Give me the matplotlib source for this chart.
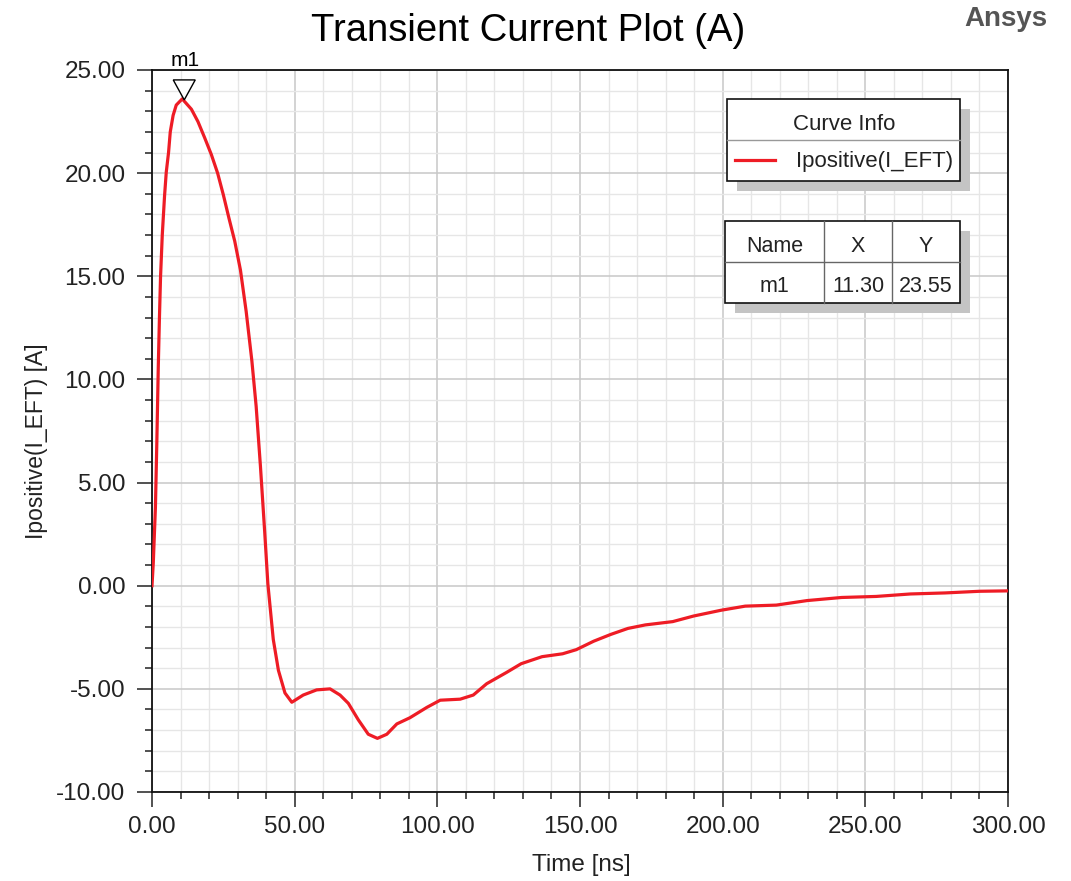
import matplotlib
matplotlib.use("Agg")
import matplotlib.pyplot as plt
from matplotlib.patches import Rectangle, Polygon
from matplotlib.lines import Line2D
from matplotlib.ticker import MultipleLocator, FormatStrFormatter

# ── data ──────────────────────────────────────────────────────────────────────
time_ns = [0, 0.45, 1.2, 1.7, 2.2, 2.6, 3.0, 3.6, 4.4, 5.0, 5.8, 6.4, 7.4, 8.5,
           10.6, 13.8, 16.1, 18.5, 20.8, 23.0, 25.0, 27.0, 29.0, 31.0, 33.0, 35.0,
           36.5, 38.0, 39.5, 40.6, 42.5, 44.3, 46.6, 49.0, 53.0, 57.7, 62.4, 65.9,
           68.8, 72.3, 75.8, 79.0, 82.3, 85.8, 90.4, 96.3, 101.0, 108.0, 112.6,
           117.3, 124.3, 129.4, 136.7, 143.9, 148.7, 154.8, 160.8, 166.8, 172.9,
           182.5, 189.8, 199.4, 207.9, 218.8, 229.6, 241.7, 253.8, 265.8, 277.9,
           290.0, 300.0]
current_a = [0, 1.1, 3.8, 7.0, 10.6, 12.95, 15.0, 17.0, 18.9, 20.05, 21.0, 22.0, 22.8,
             23.3, 23.6, 23.1, 22.5, 21.7, 20.9, 20.0, 18.95, 17.8, 16.7, 15.3, 13.3,
             10.9, 8.7, 5.8, 2.6, 0.1, -2.6, -4.1, -5.2, -5.65, -5.3, -5.05, -5.0,
             -5.3, -5.7, -6.5, -7.2, -7.4, -7.2, -6.7, -6.4, -5.9, -5.55, -5.5, -5.3,
             -4.75, -4.2, -3.78, -3.44, -3.3, -3.1, -2.69, -2.36, -2.07, -1.9, -1.74,
             -1.47, -1.19, -0.99, -0.94, -0.72, -0.57, -0.52, -0.40, -0.35, -0.27,
             -0.25]

marker_name = "m1"
marker_x = 11.30
marker_y = 23.55
curve_name = "Ipositive(I_EFT)"
table_header = ["Name", "X", "Y"]
table_row = [marker_name, f"{marker_x:.2f}", f"{marker_y:.2f}"]

RED = "#ee1c25"
W, H = 1071, 881

plt.rcParams["font.family"] = ["Liberation Sans", "DejaVu Sans"]

fig = plt.figure(figsize=(W / 100, H / 100), dpi=100)
fx = lambda x: x / W
fy = lambda y: 1 - y / H

ax = fig.add_axes([fx(152), fy(792), fx(1008) - fx(152), fy(70) - fy(792)])
ax.plot(time_ns, current_a, color=RED, lw=2.3, zorder=3, solid_joinstyle="round")

ax.set_xlim(0, 300)
ax.set_ylim(-10, 25)
ax.xaxis.set_major_locator(MultipleLocator(50))
ax.xaxis.set_minor_locator(MultipleLocator(10))
ax.yaxis.set_major_locator(MultipleLocator(5))
ax.yaxis.set_minor_locator(MultipleLocator(1))
ax.xaxis.set_major_formatter(FormatStrFormatter("%.2f"))
ax.yaxis.set_major_formatter(FormatStrFormatter("%.2f"))
ax.grid(which="major", color="#c8c8c8", lw=1.1, zorder=0)
ax.grid(which="minor", color="#e6e6e6", lw=1.0, zorder=0)
ax.set_axisbelow(True)
ax.tick_params(which="major", direction="out", length=11, width=1.1, color="#222222",
               labelsize=17.5, labelcolor="#222222")
ax.tick_params(which="minor", direction="out", length=5, width=1.1, color="#222222")
ax.tick_params(axis="y", which="major", pad=8)
ax.tick_params(axis="x", which="major", pad=6)
for s in ax.spines.values():
    s.set_linewidth(1.3)
    s.set_color("#111111")

# marker triangle at the peak
mx0, my0 = ax.transData.transform((marker_x, marker_y))
tri_pts = [(mx0 - 11, my0 + 20), (mx0 + 11, my0 + 20), (mx0, my0)]
tri_pts = [ax.transAxes.inverted().transform(p) for p in tri_pts]
ax.add_patch(Polygon(tri_pts, closed=True, facecolor="white", edgecolor="black",
                     lw=1.0, transform=ax.transAxes, clip_on=False, zorder=5))
fig.text(fx(185), fy(60), marker_name, fontsize=15, ha="center", va="center")

# titles and labels
fig.text(fx(528), fy(31), "Transient Current Plot (A)", fontsize=27.5,
         ha="center", va="center")
fig.text(fx(1006), fy(19), "Ansys", fontsize=20, fontweight="bold", color="#555555",
         ha="center", va="center")
fig.text(fx(581), fy(865), "Time [ns]", fontsize=17.5, ha="center", va="center",
         color="#222222")
fig.text(fx(37), fy(441), "Ipositive(I_EFT) [A]", fontsize=16.5, rotation=90,
         ha="center", va="center", color="#222222")


def box(x0, y0, x1, y1, shadow=10):
    fig.add_artist(Rectangle((fx(x0 + shadow), fy(y1 + shadow)), fx(x1 - x0),
                             fy(y0) - fy(y1), facecolor="#c4c4c4", edgecolor="none"))
    fig.add_artist(Rectangle((fx(x0), fy(y1)), fx(x1 - x0), fy(y0) - fy(y1),
                             facecolor="white", edgecolor="#111111", lw=1.2))


def hline(x0, x1, y, color="#999999", lw=1.0):
    fig.add_artist(Line2D([fx(x0), fx(x1)], [fy(y), fy(y)], color=color, lw=lw))


def vline(x, y0, y1, color="#666666", lw=1.0):
    fig.add_artist(Line2D([fx(x), fx(x)], [fy(y0), fy(y1)], color=color, lw=lw))


# curve info legend
box(727, 99, 960, 181)
hline(727, 960, 140)
fig.text(fx(844), fy(124), "Curve Info", fontsize=16, ha="center", va="center",
         color="#222222")
fig.add_artist(Line2D([fx(735), fx(775)], [fy(160), fy(160)], color=RED, lw=2.3))
fig.text(fx(796), fy(162), curve_name, fontsize=16, ha="left", va="center",
         color="#222222")

# marker table
box(725, 221, 960, 303)
hline(725, 960, 262, color="#666666")
col_edges = [725, 824, 892, 960]
for xe in col_edges[1:-1]:
    vline(xe, 221, 303)
for i in range(3):
    cx = (col_edges[i] + col_edges[i + 1]) / 2
    fig.text(fx(cx), fy(246), table_header[i], fontsize=15.5, ha="center",
             va="center", color="#222222")
    fig.text(fx(cx), fy(287), table_row[i], fontsize=15.5, ha="center",
             va="center", color="#222222")

fig.savefig("out.png", dpi=100)
